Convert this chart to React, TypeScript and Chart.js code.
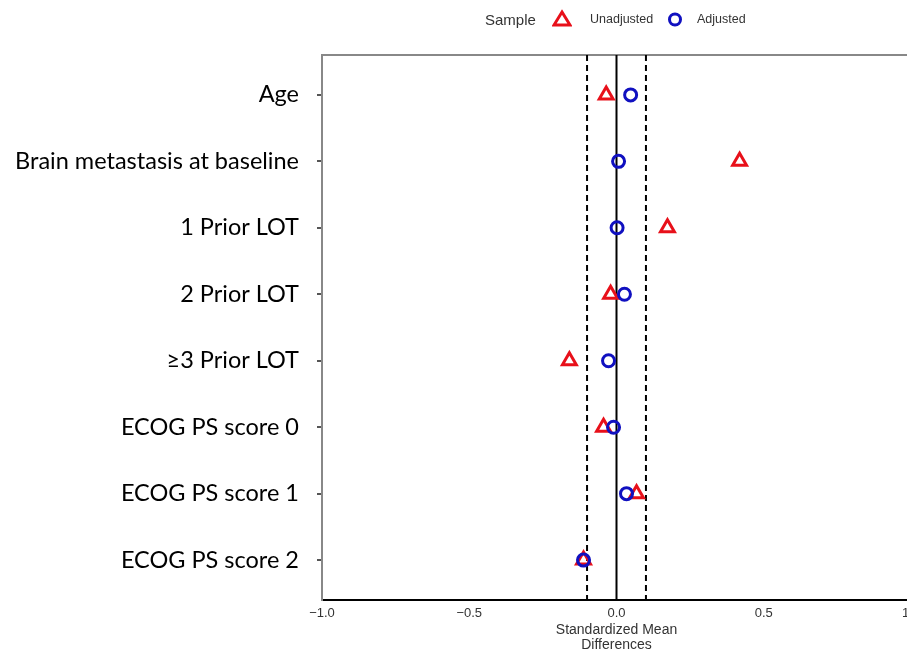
import React, { useEffect, useRef } from "react";
import { Chart, registerables } from "chart.js";
Chart.register(...registerables);

const categories = [
  "Age",
  "Brain metastasis at baseline",
  "1 Prior LOT",
  "2 Prior LOT",
  "≥3 Prior LOT",
  "ECOG PS score 0",
  "ECOG PS score 1",
  "ECOG PS score 2",
];
const unadjusted = [-0.035, 0.418, 0.173, -0.02, -0.16, -0.044, 0.068, -0.112];
const adjusted = [0.048, 0.007, 0.002, 0.027, -0.027, -0.01, 0.034, -0.112];
const xTicks = [-1.0, -0.5, 0.0, 0.5, 1.0];
const thresholds = [-0.1, 0.1];
const xTitle = ["Standardized Mean", "Differences"];
const legendTitle = "Sample";
const seriesNames = ["Unadjusted", "Adjusted"];

const RED = "#e8101a";
const BLUE = "#1010c0";
const Y_MIN = -0.6;
const Y_MAX = 7.6;

export default function App() {
  const ref = useRef<HTMLCanvasElement | null>(null);

  useEffect(() => {
    document.body.style.margin = "0";
    document.body.style.overflow = "hidden";
    const canvas = ref.current;
    if (!canvas) return;
    const vline = (x: number) => [
      { x, y: Y_MIN },
      { x, y: Y_MAX },
    ];
    const chart = new Chart(canvas, {
      type: "scatter",
      data: {
        datasets: [
          {
            type: "line",
            label: "zero",
            data: vline(0),
            borderColor: "#000",
            borderWidth: 2,
            pointRadius: 0,
            order: 5,
          },
          ...thresholds.map((t) => ({
            type: "line" as const,
            label: "thr" + t,
            data: vline(t),
            borderColor: "#000",
            borderWidth: 2,
            borderDash: [6, 4],
            pointRadius: 0,
            order: 5,
          })),
          {
            label: seriesNames[0],
            data: unadjusted.map((v, i) => ({ x: v, y: i })),
            pointStyle: "triangle",
            pointRadius: 8,
            pointBorderWidth: 3,
            borderColor: RED,
            backgroundColor: "rgba(0,0,0,0)",
            order: 2,
          },
          {
            label: seriesNames[1],
            data: adjusted.map((v, i) => ({ x: v, y: i })),
            pointStyle: "circle",
            pointRadius: 6,
            pointBorderWidth: 3,
            borderColor: BLUE,
            backgroundColor: "rgba(0,0,0,0)",
            order: 1,
          },
        ],
      },
      options: {
        responsive: false,
        animation: false,
        layout: { padding: { top: 55, right: 3, left: 0, bottom: 0 } },
        plugins: {
          legend: { display: false },
          tooltip: { enabled: false },
        },
        scales: {
          x: {
            type: "linear",
            position: "bottom",
            min: -1,
            max: 1,
            afterBuildTicks: (s: any) => {
              s.ticks = xTicks.map((v) => ({ value: v }));
            },
            afterFit: (s: any) => {
              s.height = 51;
              s.paddingLeft = 0;
              s.paddingRight = 0;
            },
            grid: { display: false, drawTicks: false },
            border: { display: true, color: "#000", width: 2 },
            ticks: {
              padding: 6,
              maxRotation: 0,
              autoSkip: false,
              color: "#333",
              font: { family: "'Liberation Sans', Arial, sans-serif", size: 13 },
              callback: (v: any) => {
                const n = Number(v);
                const s = Math.abs(n).toFixed(1);
                return n < 0 ? "\u2212" + s : s;
              },
            },
            title: {
              display: true,
              text: xTitle,
              color: "#333",
              padding: { top: 0, bottom: -1.5 },
              font: { family: "'Liberation Sans', Arial, sans-serif", size: 14, lineHeight: "15px" },
            },
          },
          x2: {
            type: "linear",
            position: "top",
            min: -1,
            max: 1,
            afterFit: (s: any) => {
              s.height = 0;
              s.paddingLeft = 0;
              s.paddingRight = 0;
            },
            grid: { display: false, drawTicks: false },
            ticks: { display: false },
            border: { display: true, color: "#888", width: 2 },
          },
          y: {
            type: "linear",
            position: "left",
            reverse: true,
            min: Y_MIN,
            max: Y_MAX,
            afterBuildTicks: (s: any) => {
              s.ticks = categories.map((_, i) => ({ value: i }));
            },
            afterFit: (s: any) => {
              s.width = 322;
            },
            grid: {
              display: true,
              drawOnChartArea: false,
              drawTicks: true,
              tickLength: 5,
              color: "#555",
              lineWidth: 2,
            },
            border: { display: true, color: "#888", width: 2 },
            ticks: {
              padding: 18,
              autoSkip: false,
              color: "#000",
              font: { family: "Lato, 'Open Sans', sans-serif", size: 23.5 },
              callback: (v: any) => categories[Number(v)] ?? "",
            },
          },
        },
      },
    } as any);
    return () => chart.destroy();
  }, []);

  const txt: React.CSSProperties = {
    position: "absolute",
    fontFamily: "'Liberation Sans', Arial, sans-serif",
    color: "#333",
    whiteSpace: "nowrap",
  };

  return (
    <div
      style={{
        position: "fixed",
        left: 0,
        top: 0,
        width: 907,
        height: 651,
        overflow: "hidden",
        background: "#fff",
      }}
    >
      <canvas ref={ref} width={922} height={651} style={{ position: "absolute", left: 0, top: 0 }} />
      <div style={{ ...txt, left: 485, top: 11, fontSize: 15, lineHeight: "17px" }}>{legendTitle}</div>
      <svg style={{ position: "absolute", left: 552, top: 9 }} width={20} height={20}>
        <polygon points="10,3 18,16 2,16" fill="none" stroke={RED} strokeWidth={3} />
      </svg>
      <div style={{ ...txt, left: 590, top: 12, fontSize: 12.5, lineHeight: "15px" }}>{seriesNames[0]}</div>
      <svg style={{ position: "absolute", left: 666, top: 10 }} width={18} height={18}>
        <circle cx={9} cy={9.5} r={5.5} fill="none" stroke={BLUE} strokeWidth={3} />
      </svg>
      <div style={{ ...txt, left: 697, top: 12, fontSize: 12.5, lineHeight: "15px" }}>{seriesNames[1]}</div>
    </div>
  );
}
